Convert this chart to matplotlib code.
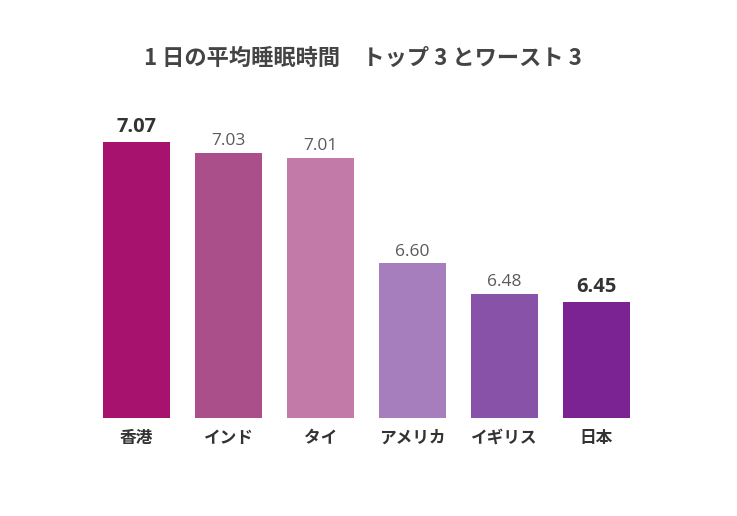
import matplotlib.pyplot as plt

plt.rcParams['font.family'] = ['Noto Sans CJK JP', 'DejaVu Sans']

# data
countries = ['香港', 'インド', 'タイ', 'アメリカ', 'イギリス', '日本']
hours = [7.07, 7.03, 7.01, 6.60, 6.48, 6.45]
colors = ['#A8126F', '#AB4F8A', '#C27AA8', '#A67DBD', '#8852A8', '#7B2392']
highlight = [True, False, False, False, False, True]

W, H = 737, 516
fig = plt.figure(figsize=(W / 100, H / 100), dpi=100)
# axes placed in pixel terms: left 90.5, right 642.5, bottom 418, top 83
ax = fig.add_axes([90.5 / W, 1 - 418 / H, 552 / W, 335 / H])

x = list(range(len(countries)))
bars = ax.bar(x, hours, width=0.73, color=colors)
ax.set_xlim(-0.5, len(countries) - 0.5)
ax.set_ylim(6.0, 7.3)

for xi, v, hl in zip(x, hours, highlight):
    if hl:
        ax.text(xi, v + 0.02, f'{v:.2f}', ha='center', va='bottom',
                fontsize=14.5, fontweight='bold', color='#333333', family='Open Sans')
    else:
        ax.text(xi, v + 0.015, f'{v:.2f}', ha='center', va='bottom',
                fontsize=12.5, color='#5a5a5a', family='Open Sans')

ax.set_xticks(x)
ax.set_xticklabels(countries, fontsize=12, fontweight='bold', color='#333333')
ax.tick_params(axis='x', length=0, pad=8)
ax.set_yticks([])
for s in ax.spines.values():
    s.set_visible(False)

fig.text(363 / W, 1 - 58 / H, '1 日の平均睡眠時間　トップ 3 とワースト 3',
         ha='center', va='center', fontsize=16, fontweight='bold', color='#444444')

fig.savefig('out.png', dpi=100)
